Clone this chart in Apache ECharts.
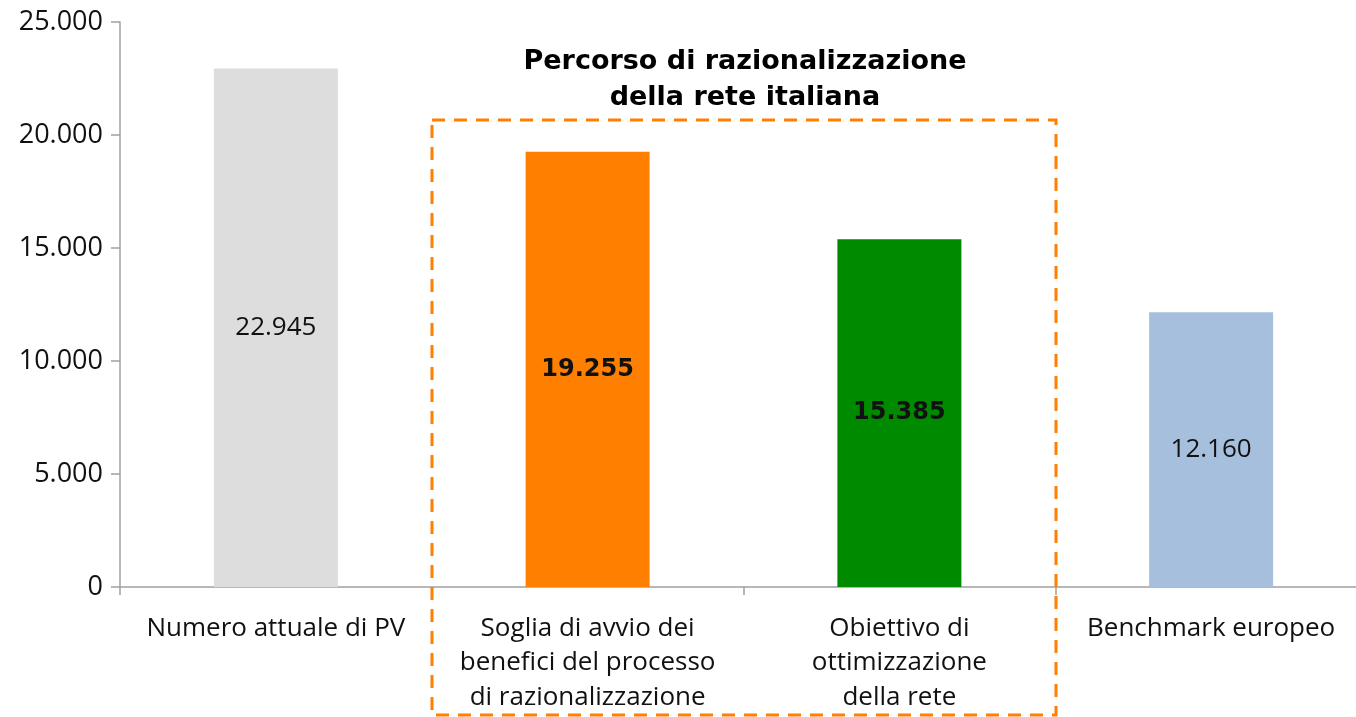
<!DOCTYPE html>
<html><head><meta charset="utf-8">
<script src="https://cdn.jsdelivr.net/npm/echarts@6/dist/echarts.min.js"></script>
<style>html,body{margin:0;padding:0;background:#fff}#c{width:1356px;height:717px}</style>
</head><body><div id="c"></div>
<script>
const categories = ['Numero attuale di PV', 'Soglia di avvio dei\nbenefici del processo\ndi razionalizzazione', 'Obiettivo di\nottimizzazione\ndella rete', 'Benchmark europeo'];
const values = [22945, 19255, 15385, 12160];
const barColors = ['#DDDDDD', '#FF7F00', '#008A00', '#A6BFDD'];
const boldLabels = [false, true, true, false];
const titleText = 'Percorso di razionalizzazione\ndella rete italiana';
const FONT = '"Open Sans", Lato, sans-serif';
const BOLDFONT = '"DejaVu Sans", sans-serif';
const fmt = v => v === 0 ? '0' : String(v).replace(/\B(?=(\d{3})+(?!\d))/g, '.');

const chart = echarts.init(document.getElementById('c'));
chart.setOption({
  animation: false,
  grid: { left: 120, width: 1247, top: 22, bottom: 130, outerBoundsMode: 'none', containLabel: false },
  xAxis: {
    type: 'category', data: categories,
    axisLine: { lineStyle: { color: '#A0A0A0', width: 1.5 } },
    axisTick: { show: true, length: 8, lineStyle: { color: '#A0A0A0', width: 1.5 } },
    axisLabel: { color: '#111', fontFamily: FONT, fontSize: 26, lineHeight: 34.5, margin: 24, interval: 0 }
  },
  yAxis: {
    type: 'value', min: 0, max: 25000, interval: 5000,
    splitLine: { show: false },
    axisLine: { show: true, lineStyle: { color: '#A0A0A0', width: 1.5 } },
    axisTick: { show: true, length: 9, lineStyle: { color: '#A0A0A0', width: 1.5 } },
    axisLabel: { color: '#111', fontFamily: FONT, fontSize: 27, margin: 17, formatter: fmt }
  },
  series: [{
    type: 'bar', barWidth: 124,
    data: values.map((v, i) => ({
      value: v,
      itemStyle: { color: barColors[i] },
      label: boldLabels[i] ? { fontWeight: 'bold', fontFamily: BOLDFONT, fontSize: 24 } : {}
    })),
    label: { show: true, position: 'inside', color: '#111', fontFamily: FONT, fontSize: 26, formatter: p => fmt(p.value) }
  }],
  graphic: [
    { type: 'rect', shape: { x: 432, y: 120, width: 624, height: 595 }, style: { fill: 'none', stroke: '#FF7F00', lineWidth: 3, lineDash: [13, 9] }, z: 10 },
    { type: 'text', x: 745, y: 44, style: { text: titleText, fill: '#000', font: 'bold 27px ' + BOLDFONT, align: 'center', lineHeight: 36 }, z: 10 }
  ]
});
</script></body></html>
